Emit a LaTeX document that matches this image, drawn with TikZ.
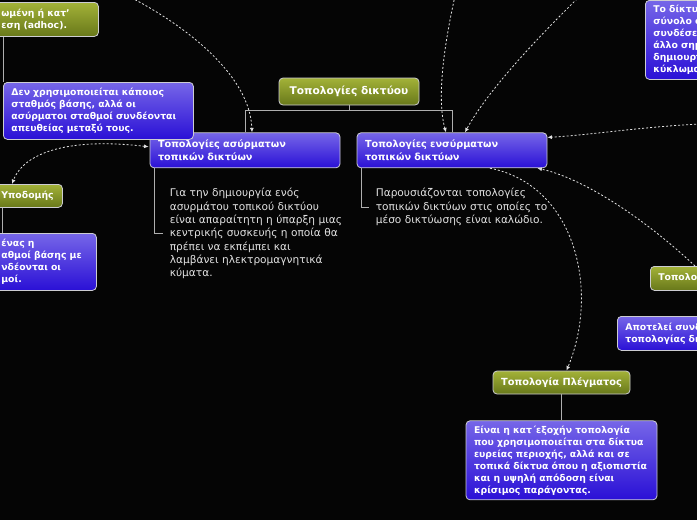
\documentclass[tikz,border=0pt]{standalone}
\usepackage{fontspec}
\usepackage{tikz}
\usetikzlibrary{arrows.meta, positioning, calc}
\setmainfont{DejaVu Sans}
\definecolor{mapbg}{RGB}{5, 5, 5}
\definecolor{mmpurpletop}{RGB}{118, 102, 232}
\definecolor{mmpurplebot}{RGB}{42, 16, 214}
\definecolor{mmgreentop}{RGB}{163, 178, 56}
\definecolor{mmgreenbot}{RGB}{104, 120, 26}
\definecolor{mmframe}{RGB}{205, 205, 210}
\definecolor{mmbranch}{RGB}{175, 175, 175}
\definecolor{mmnote}{RGB}{226, 226, 226}

\begin{document}
\begin{tikzpicture}[
    x = 1pt, y = -1pt,
    every node/.style = {font=\fontsize{9.3}{12}\selectfont\bfseries, text=white},
    topicbox/.style = {draw=mmframe, line width=0.8pt, rounded corners=4pt,
                  top color=mmpurpletop, bottom color=mmpurplebot,
                  anchor=north west, align=left, inner xsep=8pt, inner ysep=0pt},
    greenbox/.style = {topicbox, top color=mmgreentop, bottom color=mmgreenbot},
    mainfont/.style = {font=\fontsize{9.7}{12.5}\selectfont\bfseries},
    notetext/.style = {anchor=north west, align=left, inner xsep=7pt, inner ysep=0pt,
                  text=mmnote, font=\fontsize{10.6}{13.3}\selectfont},
    branch/.style = {draw=mmbranch, line width=0.8pt},
    >={Latex[length=4.5pt, width=4pt]},
    relation/.style = {draw=mmnote, line width=0.8pt, dash pattern=on 2pt off 2pt, ->},
    relboth/.style = {relation, <->}
]
  \path[use as bounding box, fill=mapbg] (0,0) rectangle (697,520);
  \clip (0,0) rectangle (697,520);

  \node[greenbox, anchor=center, align=center, minimum width=140pt, minimum height=27pt,
        font=\fontsize{10.6}{12}\selectfont\bfseries] (root) at (349,91.5) {Τοπολογίες δικτύου};
  \node[topicbox, mainfont, text width=174pt, minimum height=35pt, below=27pt of root, xshift=-104pt] (wless) {Τοπολογίες ασύρματων\\τοπικών δικτύων};
  \node[topicbox, mainfont, text width=174pt, minimum height=35pt, below=27pt of root, xshift=103pt] (wired) {Τοπολογίες ενσύρματων\\τοπικών δικτύων};
  \node[notetext, below right=20pt and 13pt of wless.south west] (wlessnote) {Για την δημιουργία ενός\\ασυρμάτου τοπικού δικτύου\\είναι απαραίτητη η ύπαρξη μιας\\κεντρικής συσκευής η οποία θα\\πρέπει να εκπέμπει και\\λαμβάνει ηλεκτρομαγνητικά\\κύματα.};
  \node[notetext, below right=20pt and 12pt of wired.south west] (wirednote) {Παρουσιάζονται τοπολογίες\\τοπικών δικτύων στις οποίες το\\μέσο δικτύωσης είναι καλώδιο.};

  \node[greenbox, text width=89pt, minimum height=34pt] (adhoc) at (-7,2) {ωμένη ή κατ'\\εση (adhoc).};
  \node[topicbox, text width=174pt, minimum height=57pt] (nobase) at (3,82) {Δεν χρησιμοποιείται κάποιος\\σταθμός βάσης, αλλά οι\\ασύρματοι σταθμοί συνδέονται\\απευθείας μεταξύ τους.};
  \node[greenbox, text width=53pt, minimum height=23pt] (infra) at (-7,184) {Υποδομής};
  \node[topicbox, text width=87pt, minimum height=57pt] (infranote) at (-7,233) {ένας η\\αθμοί βάσης με\\νδέονται οι\\μοί.};

  \node[topicbox, text width=120pt, minimum height=79pt] (circuit) at (645,0) {Το δίκτυ\\σύνολο σ\\συνδέσει\\άλλο σημ\\δημιουργ\\κύκλωμα};
  \node[greenbox, text width=100pt, minimum height=24pt] (star) at (650,266) {Τοπολογ};
  \node[topicbox, text width=120pt, minimum height=34pt] (starnote) at (617,316) {Αποτελεί συνδ\\τοπολογίας δι};

  \node[greenbox, anchor=center, align=center, minimum width=137pt, minimum height=23pt,
        font=\fontsize{9.8}{12}\selectfont\bfseries] (mesh) at (561.5,382.5) {Τοπολογία Πλέγματος};
  \node[topicbox, text width=175pt, minimum height=79pt, below=26pt of mesh] (meshnote) {Είναι η κατ΄εξοχήν τοπολογία\\που χρησιμοποιείται στα δίκτυα\\ευρείας περιοχής, αλλά και σε\\τοπικά δίκτυα όπου η αξιοπιστία\\και η υψηλή απόδοση είναι\\κρίσιμος παράγοντας.};

  % tree branches
  \draw[branch] (root.south) -- ++(0,5) coordinate (fork);
  \draw[branch] (wless.north) |- (fork) -| (wired.north);
  \draw[branch] ([xshift=5pt]wless.south west) |- (wlessnote.west);
  \draw[branch] ([xshift=5pt]wired.south west) |- (wirednote.west);
  \draw[branch] (nobase.north west |- adhoc.south) -- (nobase.north west);
  \draw[branch] ([xshift=9pt]infra.south west) -- ([xshift=9pt]infranote.north west);
  \draw[branch] (mesh) -- (meshnote);

  % relationships
  \coordinate (fromtopleft) at (128,-4);
  \coordinate (fromtop1) at (455,-4);
  \coordinate (fromtop2) at (580,-4);
  \coordinate (fromright) at (700,124);
  \draw[relation] (fromtopleft) .. controls (185,25) and (250,75) .. ([xshift=7pt]wless.north);
  \draw[relboth] ($(wless.west)+(-1,-3.5)$) .. controls (75,138) and (25,150) .. ([xshift=19pt]infra.north west);
  \draw[relation] (fromtop1) .. controls (443,50) and (437,100) .. ([xshift=-6pt]wired.north);
  \draw[relation] (fromtop2) .. controls (530,45) and (485,95) .. ([xshift=13pt]wired.north);
  \draw[relation] (fromright) .. controls (640,127) and (590,135) .. ([yshift=-5pt]wired.north east);
  \draw[relation] ([xshift=45pt]star.north west) .. controls (655,228) and (590,180) .. ([xshift=-10pt]wired.south east);
  \draw[relation] ([xshift=38pt]wired.south) .. controls (575,185) and (600,290) .. ([xshift=5pt]mesh.north);
\end{tikzpicture}
\end{document}
